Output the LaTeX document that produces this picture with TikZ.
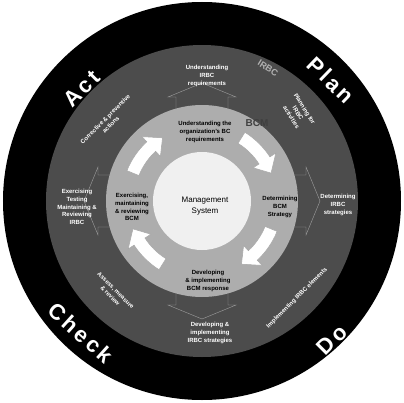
\documentclass[tikz,border=0pt]{standalone}
\usepackage{fontspec}
\setmainfont{Liberation Sans}
\usetikzlibrary{calc}

\definecolor{ringdark}{gray}{0.30}
\definecolor{ringlight}{gray}{0.68}
\definecolor{corefill}{gray}{0.94}

\tikzset{
  pdca/.style={text=white, inner sep=0pt,
    font=\fontsize{22}{22}\selectfont\bfseries\addfontfeature{LetterSpace=14}},
  outtext/.style={text=white, align=center, inner sep=0pt,
    font=\fontsize{6}{7.8}\selectfont\bfseries},
  intext/.style={text=black, align=center, inner sep=0pt,
    font=\fontsize{6}{7.8}\selectfont\bfseries},
  ringarrowstyle/.style={fill=white, draw=gray!70, line width=0.5pt},
  outarrow/.style={draw=gray!75, line width=0.4pt}
}

% block arrow in the light ring, clockwise from #1 to #2
\newcommand{\ringarrow}[2]{%
  \filldraw[ringarrowstyle] (#1:81) arc[start angle=#1, end angle=#2+11, radius=81]
    -- (#2+11:88) -- (#2:74.5) -- (#2+11:61) -- (#2+11:68)
    arc[start angle=#2+11, end angle=#1, radius=68] -- cycle;}

\begin{document}
\begin{tikzpicture}[x=1pt,y=1pt]

\useasboundingbox (-202,-201) rectangle (202,201);

\coordinate (c) at (0,0);

%rings
\fill[black]     (c) circle[radius=199];
\fill[ringdark]  (c) circle[radius=156];
\fill[ringlight] (c) circle[radius=96];
\fill[corefill]  (c) circle[radius=49];

%outlined arrows into the outer ring
\foreach \a in {90,0,-90,180}
  \draw[outarrow, rotate=\a] (92,-26) -- (104,-26) -- (104,-34) -- (118,0)
       -- (104,34) -- (104,26) -- (92,26);

%arrows of the inner ring
\ringarrow{58}{22}
\ringarrow{-22}{-58}
\ringarrow{238}{202}
\ringarrow{158}{122}

%PDCA labels
\node[pdca, rotate=45]  (act)   at (-120,112)  {Act};
\node[pdca, rotate=-44] (plan)  at (129,121)   {Plan};
\node[pdca, rotate=-42] (check) at (-121,-132) {Check};
\node[pdca, rotate=45]  (do)    at (130,-139)  {Do};

%outer ring
\node[outtext] (irbcreq)  at (5,125)   {Understanding\\IRBC\\requirements};
\node[text=gray!60, font=\fontsize{9}{9}\selectfont\bfseries, rotate=-32]
               (irbc)     at (66,133)  {IRBC};
\node[outtext, rotate=-58] (planirbc) at (96,88) {Planning for\\IRBC\\activities};
\node[outtext] (detirbc)  at (136,-4)  {Determining\\IRBC\\strategies};
\node[outtext, rotate=45]  (implirbc) at (95,-97) {Implementing IRBC elements};
\node[outtext] (devirbc)  at (8,-132)  {Developing \&\\implementing\\IRBC strategies};
\node[outtext, rotate=-45] (assess)   at (-89,-92) {Assess, measure\\\& review};
\node[outtext] (exirbc)   at (-125,-6) {Exercising\\Testing\\Maintaining \&\\Reviewing\\IRBC};
\node[outtext, rotate=45]  (corr)     at (-94,79) {Corrective \& preventive\\actions};

%inner ring
\node[intext] (orgbc)  at (3,69)   {Understanding the\\organization's BC\\requirements};
\node[text=black!75, font=\fontsize{10}{10}\selectfont\bfseries]
              (bcm)    at (55,78)  {BCM};
\node[intext] (detbcm) at (78,-6)  {Determining\\BCM\\Strategy};
\node[intext] (devbcm) at (6,-80)  {Developing\\\& implementing\\BCM response};
\node[intext] (exbcm)  at (-70,-6) {Exercising,\\maintaining\\\& reviewing\\BCM};

%core
\node[align=center, font=\fontsize{8}{11}\selectfont] (ms) at (3,-5) {Management\\System};

\end{tikzpicture}
\end{document}
